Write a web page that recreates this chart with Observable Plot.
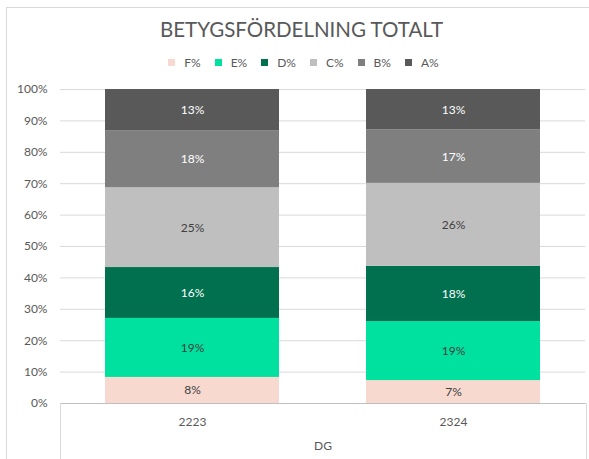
<!DOCTYPE html>
<html><head><meta charset="utf-8">
<script src="https://cdn.jsdelivr.net/npm/d3@7"></script>
<script src="https://cdn.jsdelivr.net/npm/@observablehq/plot@0.6"></script>
<style>
body{margin:0;background:#fff;font-family:Lato,"Noto Sans",sans-serif;}
#wrap{position:relative;width:589px;height:459px;overflow:hidden;background:#fff;}
#frame{position:absolute;left:6px;top:7px;width:700px;height:700px;border-left:1px solid #d9d9d9;border-top:1px solid #d9d9d9;pointer-events:none;}
#title{position:absolute;top:17px;left:7px;width:589px;text-align:center;font-size:20.5px;color:#595959;white-space:nowrap;}
#legend{position:absolute;top:55px;left:9px;width:589px;display:flex;justify-content:center;gap:14px;font-size:12px;color:#595959;}
#legend .item{display:flex;align-items:center;gap:9px;}
#legend .sw{width:7px;height:7px;display:inline-block;}
#chart{position:absolute;top:76px;left:0;}
</style></head>
<body>
<div id="wrap">
  <div id="frame"></div>
  <div id="title"></div>
  <div id="legend"></div>
  <div id="chart"></div>
</div>
<script>
const titleText = "BETYGSFÖRDELNING TOTALT";
const groupLabel = "DG";
const years = ["2223", "2324"];
const grades = ["F%", "E%", "D%", "C%", "B%", "A%"];
const gradeColors = ["#F8D9D0", "#00E09E", "#00704F", "#BFBFBF", "#7F7F7F", "#595959"];
const labelColors = ["#404040", "#404040", "#ffffff", "#404040", "#ffffff", "#ffffff"];
const values2223 = [8.3, 18.8, 16.2, 25.4, 18.2, 13.1];
const values2324 = [7.3, 18.8, 17.6, 26.4, 17.0, 12.9];
const yTicks = [0, 10, 20, 30, 40, 50, 60, 70, 80, 90, 100];

document.getElementById("title").textContent = titleText;

const legend = document.getElementById("legend");
grades.forEach((g, i) => {
  const it = document.createElement("div");
  it.className = "item";
  const sw = document.createElement("span");
  sw.className = "sw";
  sw.style.background = gradeColors[i];
  const t = document.createElement("span");
  t.textContent = g;
  it.appendChild(sw); it.appendChild(t);
  legend.appendChild(it);
});

const series = {"2223": values2223, "2324": values2324};
const data = [];
years.forEach(y => grades.forEach((g, i) => data.push({year: y, grade: g, value: series[y][i], idx: i})));

const boxMark = (index, scales, values, dims) => {
  const ns = "http://www.w3.org/2000/svg";
  const p = document.createElementNS(ns, "path");
  const x0 = dims.marginLeft, x1 = dims.width - dims.marginRight;
  const y0 = dims.height - dims.marginBottom, y1 = dims.height;
  p.setAttribute("d", `M${x0 + 0.5},${y1}V${y0}M${x1 + 1.5},${y0}V${y1}M${x1},${y0 + 0.5}H${x1 + 2}`);
  p.setAttribute("stroke", "#d9d9d9");
  p.setAttribute("fill", "none");
  return p;
};

const chart = Plot.plot({
  width: 589,
  height: 383,
  marginTop: 13,
  marginBottom: 56,
  marginLeft: 60,
  marginRight: 4,
  style: {fontFamily: "Lato, 'Noto Sans', sans-serif", fontSize: "12px", color: "#595959", background: "transparent"},
  x: {domain: years, paddingInner: 0.333, paddingOuter: 0.172, axis: null},
  y: {domain: [0, 1], axis: null},
  color: {type: "identity"},
  marks: [
    Plot.ruleY(yTicks.slice(1), {y: d => d / 100, stroke: "#d9d9d9", strokeWidth: 1}),
    Plot.ruleY([0], {stroke: "#bfbfbf", strokeWidth: 1}),
    boxMark,
    Plot.barY(data, Plot.stackY({x: "year", y: "value", z: "grade", order: grades, offset: "normalize", fill: d => gradeColors[d.idx]})),
    Plot.text(data, Plot.stackY({x: "year", y: "value", z: "grade", order: grades, offset: "normalize", text: d => Math.round(d.value) + "%", fill: d => labelColors[d.idx], fontSize: 12})),
    Plot.axisY(yTicks.map(d => d / 100), {tickSize: 0, tickPadding: 13, tickFormat: d => Math.round(d * 100) + "%", fill: "#595959", fontSize: 12, label: null}),
    Plot.axisX({tickSize: 0, tickPadding: 14, fill: "#595959", fontSize: 12, label: null}),
    Plot.text([groupLabel], {frameAnchor: "bottom", dy: 46, text: d => d, fill: "#595959", fontSize: 12})
  ]
});
document.getElementById("chart").appendChild(chart);
</script>
</body></html>
